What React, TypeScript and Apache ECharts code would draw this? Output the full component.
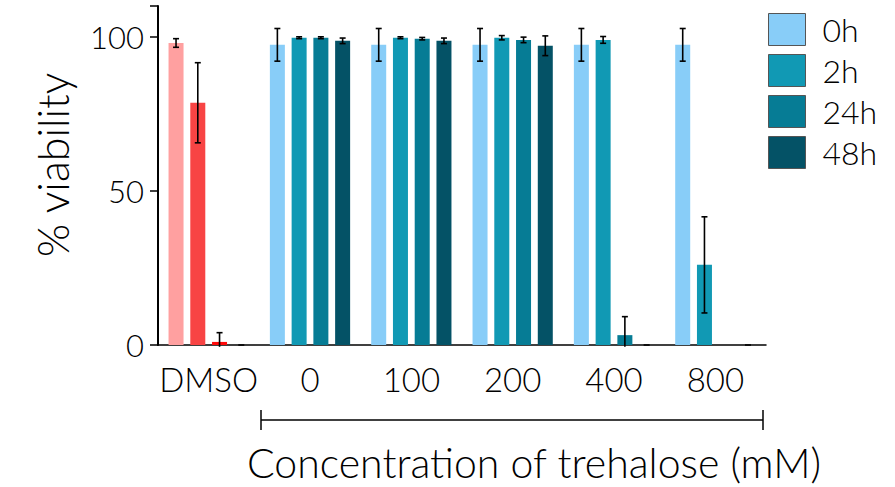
import React, { useEffect, useRef } from "react";
import * as echarts from "echarts";

const categories = ["DMSO", "0", "100", "200", "400", "800"];
const seriesNames = ["0h", "2h", "24h", "48h"];
const v0h = [98.0, 97.4, 97.4, 97.4, 97.4, 97.4];
const e0h = [1.4, 5.3, 5.3, 5.3, 5.3, 5.3];
const v2h = [78.6, 99.7, 99.7, 99.7, 99.0, 26.0];
const e2h = [13.0, 0.3, 0.3, 0.7, 1.1, 15.6];
const v24h = [1.0, 99.7, 99.4, 99.0, 3.2, 0];
const e24h = [3.0, 0.3, 0.4, 0.9, 6.0, null];
const v48h = [0, 98.7, 98.7, 97.1, 0, 0];
const e48h = [0, 0.9, 0.9, 3.2, 0, 0];
const yTicks = [0, 50, 100];

const teal = ["#88CDF8", "#1199B4", "#067C95", "#045266"];
const dmsoColors = ["#FFA0A0", "#F84444", "#FF0A0A", "#F84444"];
const FONT = "Lato";
const BAR_W = 15;
const BAR_STEP = BAR_W * 1.45;

const values = [v0h, v2h, v24h, v48h];
const errors = [e0h, e2h, e24h, e48h];

export default function App() {
  const ref = useRef<HTMLDivElement>(null);
  useEffect(() => {
    document.body.style.margin = "0";
    if (!ref.current) return;
    const chart = echarts.init(ref.current, null, { renderer: "svg" });
    const barSeries = seriesNames.map((name, si) => ({
      type: "bar",
      name,
      barWidth: BAR_W,
      barGap: "45%",
      itemStyle: { color: teal[si] },
      data: values[si].map((v, ci) =>
        ci === 0 ? { value: v, itemStyle: { color: dmsoColors[si] } } : v
      ),
    }));
    const errSeries = seriesNames.map((name, si) => ({
      type: "custom",
      name: "err" + name,
      z: 10,
      encode: { x: 0, y: 1 },
      data: values[si]
        .map((v, ci) => [ci, v, errors[si][ci]])
        .filter((d) => d[2] !== null && d[2] !== undefined),
      renderItem: (params: any, api: any) => {
        const ci = api.value(0);
        const v = api.value(1);
        const e = api.value(2);
        const off = (si - 1.5) * BAR_STEP;
        const top = api.coord([ci, v + e]);
        const low = Math.max(v - e, -0.6);
        const bot = api.coord([ci, low]);
        const x = top[0] + off;
        const cw = 3;
        const st = { stroke: "#000", lineWidth: 1.6 };
        const children: any[] = [
          { type: "line", shape: { x1: x, y1: top[1], x2: x, y2: bot[1] }, style: st },
          { type: "line", shape: { x1: x - cw, y1: top[1], x2: x + cw, y2: top[1] }, style: st },
        ];
        if (v - e > 0) {
          children.push({ type: "line", shape: { x1: x - cw, y1: bot[1], x2: x + cw, y2: bot[1] }, style: st });
        }
        return { type: "group", children };
      },
    }));
    chart.setOption({
      animation: false,
      textStyle: { fontFamily: FONT, fontWeight: 300, color: "#000" },
      grid: { left: 158, right: 129, top: 6, bottom: 142 },
      legend: {
        data: seriesNames,
        orient: "vertical",
        left: 768,
        top: 13,
        padding: 0,
        itemWidth: 37,
        itemHeight: 32,
        itemGap: 8,
        icon: "rect",
        itemStyle: { borderColor: "#555", borderWidth: 1 },
        textStyle: {
          fontFamily: FONT,
          fontWeight: 300,
          fontSize: 32,
          lineHeight: 32,
          color: "#000",
          padding: [0, 0, 0, 12],
        },
      },
      xAxis: {
        type: "category",
        data: categories,
        axisLine: { lineStyle: { color: "#000", width: 1.5 } },
        axisTick: { alignWithLabel: true, length: 9, lineStyle: { color: "#000", width: 1.5 } },
        axisLabel: { interval: 0, fontFamily: FONT, fontWeight: 300, fontSize: 33, color: "#000", margin: 17 },
      },
      yAxis: {
        type: "value",
        min: 0,
        max: 110,
        interval: 50,
        splitLine: { show: false },
        axisLine: { show: true, lineStyle: { color: "#000", width: 2 } },
        axisTick: { show: true, length: 8, lineStyle: { color: "#000", width: 1.5 } },
        axisLabel: {
          fontFamily: FONT,
          fontWeight: 300,
          fontSize: 31,
          color: "#000",
          margin: 14,
          formatter: (v: number) => (yTicks.includes(v) ? String(v) : ""),
        },
      },
      graphic: [
        { type: "line", shape: { x1: 261, y1: 420, x2: 763, y2: 420 }, style: { stroke: "#000", lineWidth: 1.5 } },
        { type: "line", shape: { x1: 261, y1: 410, x2: 261, y2: 430 }, style: { stroke: "#000", lineWidth: 1.5 } },
        { type: "line", shape: { x1: 763, y1: 410, x2: 763, y2: 430 }, style: { stroke: "#000", lineWidth: 1.5 } },
        {
          type: "text",
          x: 534,
          y: 462,
          style: {
            text: "Concentration of trehalose (mM)",
            font: `300 41px ${FONT}`,
            fill: "#000",
            align: "center",
            verticalAlign: "middle",
          },
        },
        {
          type: "text",
          x: 52,
          y: 165,
          rotation: Math.PI / 2,
          style: {
            text: "% viability",
            font: `300 43px ${FONT}`,
            fill: "#000",
            align: "center",
            verticalAlign: "middle",
          },
        },
      ],
      series: [...barSeries, ...errSeries],
    });
    return () => chart.dispose();
  }, []);
  return <div ref={ref} style={{ width: 895, height: 487 }} />;
}
